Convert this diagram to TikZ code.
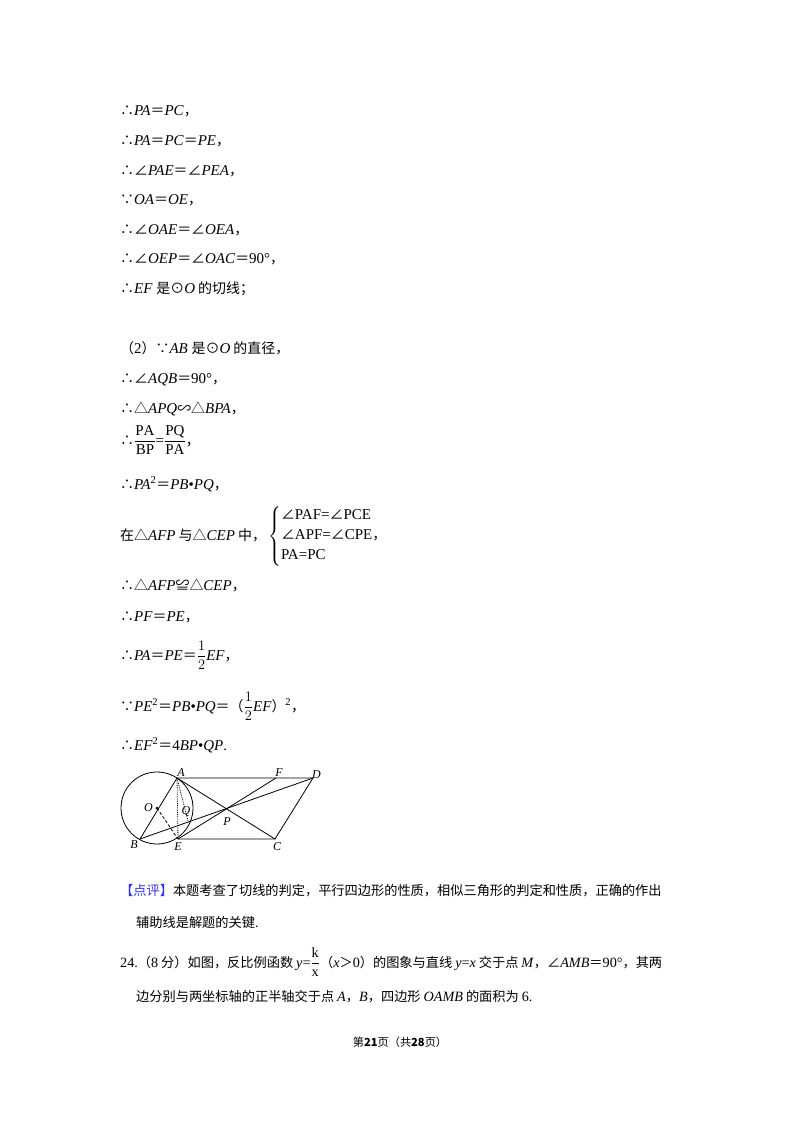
\documentclass[tikz,border=0pt]{standalone}
\usepackage{amsmath}
\usepackage{fontspec}
\setmainfont{Liberation Serif}
\newfontfamily\cjk{Noto Sans CJK SC}[Scale=0.93]
\newcommand\cj[1]{{\cjk #1}}
\newcommand\iv[1]{\textit{#1}}
\newcommand\eqq{\cj{＝}}
\newcommand\cm{\cj{，}}
\begin{document}
\begin{tikzpicture}[x=1pt,y=-1pt,
  ln/.style={anchor=base west,inner sep=0pt,font=\fontsize{15}{17}\selectfont},
  lbl/.style={inner sep=0pt,font=\fontsize{12}{14}\selectfont\itshape},
  fig/.style={line width=0.8pt}]
\useasboundingbox[fill=white] (0,0) rectangle (800,1132);
\node[ln] (l1) at (120,115) {\cj{∴}\iv{PA}\eqq\iv{PC}\cm};
\node[ln] (l2) at (120,145) {\cj{∴}\iv{PA}\eqq\iv{PC}\eqq\iv{PE}\cm};
\node[ln] (l3) at (120,175) {\cj{∴∠}\iv{PAE}\eqq\cj{∠}\iv{PEA}\cm};
\node[ln] (l4) at (120,204) {\cj{∵}\iv{OA}\eqq\iv{OE}\cm};
\node[ln] (l5) at (120,234) {\cj{∴∠}\iv{OAE}\eqq\cj{∠}\iv{OEA}\cm};
\node[ln] (l6) at (120,263) {\cj{∴∠}\iv{OEP}\eqq\cj{∠}\iv{OAC}\eqq 90°\cm};
\node[ln] (l7) at (120,293) {\cj{∴}\iv{EF} \cj{是⊙}\iv{O}\cj{ 的切线；}};
\node[ln] (l8) at (120,353) {\cj{（}2\cj{）∵}\iv{AB} \cj{是⊙}\iv{O}\cj{ 的直径，}};
\node[ln] (l9) at (120,383) {\cj{∴∠}\iv{AQB}\eqq 90°\cm};
\node[ln] (l10) at (120,413) {\cj{∴△}\iv{APQ}\cj{∽△}\iv{BPA}\cm};
\node[ln] (l11) at (120,445) {\cj{∴}$\dfrac{\mathrm{PA}}{\mathrm{BP}}$=$\dfrac{\mathrm{PQ}}{\mathrm{PA}}$\cm};
\node[ln] (l12) at (120,489) {\cj{∴}\iv{PA}\textsuperscript{2}\eqq\iv{PB}•\iv{PQ}\cm};
\node[ln] (l13) at (120,540) {\cj{在△}\iv{AFP}\cj{ 与△}\iv{CEP}\cj{ 中，}};
\node[ln] (l13b) at (268,540) {$\left\{\begin{array}{@{}l@{}}\text{\cj{∠}PAF=\cj{∠}PCE}\\[3pt]\text{\cj{∠}APF=\cj{∠}CPE\cm}\\[3pt]\text{PA=PC}\end{array}\right.$};
\node[ln] (l14) at (120,590) {\cj{∴△}\iv{AFP}\cj{≌△}\iv{CEP}\cm};
\node[ln] (l15) at (120,621) {\cj{∴}\iv{PF}\eqq\iv{PE}\cm};
\node[ln] (l16) at (120,660) {\cj{∴}\iv{PA}\eqq\iv{PE}\eqq$\dfrac{1}{2}$\iv{EF}\cm};
\node[ln] (l17) at (120,711) {\cj{∵}\iv{PE}\textsuperscript{2}\eqq\iv{PB}•\iv{PQ}\eqq\cj{（}$\dfrac{1}{2}$\iv{EF}\cj{）}\textsuperscript{2}\cm};
\node[ln] (l18) at (120,750) {\cj{∴}\iv{EF}\textsuperscript{2}\eqq 4\iv{BP}•\iv{QP}.};
% figure
\coordinate (A) at (177,778); \coordinate (F) at (276,778); \coordinate (D) at (313,778);
\coordinate (O) at (157,808); \coordinate (B) at (140,839); \coordinate (E) at (178,839);
\coordinate (C) at (275,839); \coordinate (P) at (225,808); \coordinate (Q) at (188,821);
\draw[fig] (O) circle (36);
\draw[fig] (A) -- (D) -- (C) -- (E);
\draw[fig] (B) -- (A) -- (C);
\draw[fig] (B) -- (D); \draw[fig] (E) -- (F);
\draw[fig,densely dotted] (A) -- (E);
\draw[fig,densely dotted] (A) -- (Q);
\draw[fig,densely dashed] (O) -- (E);
\fill (O) circle (1.5);
\node[lbl,anchor=south] (nA) at (181,777) {A};
\node[lbl,anchor=south] (nF) at (279,777) {F};
\node[lbl,anchor=south west] (nD) at (312,779) {D};
\node[lbl,anchor=east] (nO) at (153,808) {O};
\node[lbl] (nQ) at (186,811) {Q};
\node[lbl] (nP) at (227,822) {P};
\node[lbl,anchor=north east] (nB) at (138,840) {B};
\node[lbl,anchor=north] (nE) at (178,842) {E};
\node[lbl,anchor=north] (nC) at (277,842) {C};
\begin{scope}[ln/.append style={font=\fontsize{14.2}{16}\selectfont}]
\node[ln] (r1) at (120,895) {\cj{\textcolor[rgb]{0.2,0.2,0.9}{【点评】}本题考查了切线的判定，平行四边形的性质，相似三角形的判定和性质，正确的作出}};
\node[ln] (r2) at (136,927) {\cj{辅助线是解题的关键}.};
\node[ln] (r3) at (120,967) {24.\cj{（}8\cj{ 分）如图，反比例函数 }\iv{y}=$\dfrac{\mathrm{k}}{\mathrm{x}}$\cj{（}\iv{x}\cj{＞}0\cj{）的图象与直线 }\iv{y}=\iv{x}\cj{ 交于点 }\iv{M}\cj{，∠}\iv{AMB}\eqq 90°\cj{，其两}};
\node[ln] (r4) at (136,1001) {\cj{边分别与两坐标轴的正半轴交于点 }\iv{A}\cj{，}\iv{B}\cj{，四边形 }\iv{OAMB}\cj{ 的面积为 }6.};
\end{scope}
\node[anchor=base,inner sep=0pt,font=\fontsize{12}{14}\selectfont] (ft) at (400,1046) {\cj{第\textbf{21}页（共\textbf{28}页）}};
\end{tikzpicture}
\end{document}
